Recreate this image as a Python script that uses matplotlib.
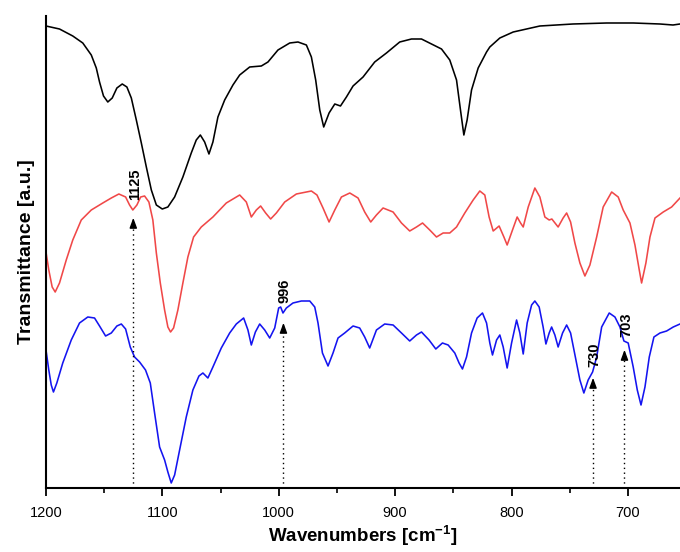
import numpy as np
import matplotlib.pyplot as plt
from matplotlib.ticker import MultipleLocator

plt.rcParams['font.family'] = ['Liberation Sans', 'DejaVu Sans']
plt.rcParams['mathtext.fontset'] = 'custom'
plt.rcParams['mathtext.bf'] = 'Liberation Sans:bold'
plt.rcParams['mathtext.rm'] = 'Liberation Sans'

# espectro 1 (negro)
wn_negro = [1200, 1188.4, 1177.0, 1168.4, 1161.1, 1156.8, 1154.0, 1150.6, 1146.9, 1143.1,
            1139.1, 1134.5, 1130.5, 1126.7, 1122.4, 1118.1, 1113.8, 1109.5, 1105.2, 1100.1,
            1095.3, 1089.5, 1082.4, 1075.2, 1070.9, 1067.4, 1063.7, 1060.0, 1056.6, 1052.3,
            1046.5, 1039.4, 1033.6, 1025.0, 1015.0, 1009.3, 1000.7, 990.6, 983.5, 976.3,
            972.0, 968.3, 964.8, 961.4, 956.8, 951.9, 947.0, 941.9, 936.2, 927.6,
            917.6, 907.5, 896.1, 886.0, 877.4, 868.8, 860.2, 853.1, 847.3, 843.9,
            841.0, 838.2, 834.4, 828.7, 821.5, 818.7, 810.1, 798.6, 775.7, 747.3,
            718.3, 695.4, 672.5, 661.3, 655.3]
T_negro = [4.62, 4.59, 4.52, 4.45, 4.33, 4.20, 4.06, 3.92, 3.86, 3.90,
           4.00, 4.04, 4.01, 3.90, 3.68, 3.45, 3.21, 2.98, 2.83, 2.79,
           2.81, 2.91, 3.11, 3.35, 3.48, 3.53, 3.46, 3.34, 3.46, 3.71,
           3.88, 4.03, 4.13, 4.21, 4.22, 4.26, 4.38, 4.45, 4.46, 4.43,
           4.31, 4.08, 3.78, 3.61, 3.75, 3.84, 3.82, 3.91, 4.02, 4.11,
           4.26, 4.35, 4.46, 4.49, 4.49, 4.44, 4.39, 4.28, 4.08, 3.78,
           3.53, 3.68, 3.98, 4.20, 4.36, 4.41, 4.50, 4.56, 4.62, 4.64,
           4.65, 4.65, 4.64, 4.63, 4.64]

# espectro 2 (rojo)
wn_rojo = [1200, 1197.6, 1194.7, 1192.1, 1188.4, 1182.6, 1177.0, 1169.7, 1161.1, 1151.2,
           1143.9, 1137.4, 1131.6, 1128.2, 1125.4, 1121.9, 1118.7, 1115.3, 1111.6, 1108.2,
           1105.2, 1101.8, 1098.1, 1095.3, 1093.0, 1090.4, 1086.7, 1082.4, 1078.1, 1073.2,
           1066.6, 1056.6, 1045.1, 1033.6, 1027.9, 1023.6, 1019.3, 1015.6, 1011.3, 1007.0,
           1002.1, 994.9, 984.9, 972.0, 967.2, 962.0, 956.8, 951.9, 946.2, 939.0,
           931.9, 926.2, 921.0, 916.1, 910.4, 901.8, 894.6, 887.5, 881.7, 876.5,
           870.3, 864.5, 858.8, 853.1, 847.3, 840.2, 833.0, 827.3, 823.0, 819.3,
           815.8, 810.7, 806.6, 803.8, 798.6, 795.2, 792.3, 790.0, 785.7, 780.0,
           775.7, 771.4, 767.7, 765.4, 760.0, 755.7, 752.7, 749.3, 745.6, 741.3,
           737.0, 732.7, 726.9, 721.3, 714.0, 708.4, 704.1, 698.3, 694.0, 690.3,
           688.3, 684.6, 681.1, 676.8, 669.7, 662.5, 655.3]
T_rojo = [2.36, 2.18, 2.01, 1.96, 2.05, 2.28, 2.48, 2.68, 2.78, 2.85,
          2.90, 2.94, 2.91, 2.83, 2.78, 2.83, 2.91, 2.92, 2.86, 2.68,
          2.35, 2.05, 1.78, 1.61, 1.56, 1.60, 1.78, 2.05, 2.31, 2.51,
          2.61, 2.71, 2.85, 2.93, 2.86, 2.71, 2.78, 2.82, 2.75, 2.69,
          2.75, 2.86, 2.94, 2.97, 2.93, 2.80, 2.66, 2.78, 2.91, 2.95,
          2.90, 2.76, 2.66, 2.73, 2.80, 2.76, 2.65, 2.57, 2.61, 2.65,
          2.58, 2.51, 2.55, 2.55, 2.61, 2.75, 2.88, 2.97, 2.93, 2.71,
          2.57, 2.62, 2.51, 2.43, 2.60, 2.71, 2.65, 2.61, 2.81, 3.00,
          2.91, 2.71, 2.68, 2.69, 2.61, 2.70, 2.75, 2.66, 2.45, 2.25,
          2.12, 2.23, 2.51, 2.81, 2.96, 2.91, 2.78, 2.65, 2.43, 2.18,
          2.05, 2.25, 2.51, 2.70, 2.76, 2.81, 2.90]

# espectro 3 (azul)
wn_azul = [1200, 1197.6, 1195.5, 1193.6, 1190.7, 1185.6, 1178.3, 1171.2, 1164.1, 1158.3,
           1154.0, 1148.8, 1143.9, 1139.1, 1135.3, 1131.6, 1127.6, 1123.9, 1119.6, 1114.5,
           1110.4, 1106.7, 1102.4, 1098.1, 1095.3, 1092.4, 1089.5, 1085.2, 1079.5, 1073.8,
           1068.6, 1065.2, 1060.9, 1056.6, 1049.4, 1042.2, 1036.5, 1030.2, 1026.5, 1023.6,
           1020.1, 1016.4, 1012.1, 1007.8, 1003.5, 1000.1, 998.4, 996.4, 993.5, 987.8,
           980.6, 973.4, 969.1, 966.3, 962.5, 957.7, 953.4, 949.1, 943.4, 936.2,
           930.5, 926.2, 921.9, 916.1, 909.0, 901.8, 894.6, 887.5, 881.7, 877.4,
           870.9, 865.1, 859.4, 854.5, 848.8, 845.1, 842.2, 838.7, 834.4, 829.6,
           825.0, 821.5, 818.7, 816.4, 812.9, 810.1, 807.2, 803.8, 800.0, 795.7,
           792.9, 790.0, 786.6, 782.8, 780.0, 776.3, 772.9, 770.5, 767.7, 765.6,
           762.8, 760.0, 756.2, 752.7, 749.3, 744.7, 741.3, 737.9, 734.2, 730.4,
           726.9, 722.6, 716.1, 711.2, 706.9, 703.5, 699.8, 695.5, 692.0, 688.8,
           685.4, 681.7, 677.7, 672.5, 666.8, 661.1, 655.3]
T_azul = [1.38, 1.18, 1.03, 0.96, 1.05, 1.25, 1.48, 1.65, 1.71, 1.70,
          1.62, 1.52, 1.55, 1.62, 1.64, 1.59, 1.41, 1.31, 1.26, 1.18,
          1.05, 0.75, 0.41, 0.28, 0.16, 0.05, 0.13, 0.38, 0.71, 0.98,
          1.12, 1.15, 1.10, 1.21, 1.40, 1.55, 1.64, 1.70, 1.58, 1.43,
          1.56, 1.64, 1.58, 1.50, 1.60, 1.80, 1.81, 1.75, 1.80, 1.85,
          1.87, 1.87, 1.81, 1.65, 1.35, 1.22, 1.35, 1.50, 1.55, 1.62,
          1.60, 1.51, 1.40, 1.58, 1.64, 1.63, 1.55, 1.47, 1.53, 1.56,
          1.48, 1.39, 1.45, 1.43, 1.35, 1.25, 1.19, 1.31, 1.55, 1.70,
          1.75, 1.65, 1.45, 1.33, 1.48, 1.53, 1.41, 1.20, 1.45, 1.68,
          1.55, 1.34, 1.65, 1.83, 1.87, 1.81, 1.61, 1.44, 1.55, 1.61,
          1.53, 1.41, 1.55, 1.63, 1.55, 1.28, 1.08, 0.95, 1.08, 1.16,
          1.31, 1.61, 1.75, 1.71, 1.61, 1.47, 1.45, 1.21, 0.98, 0.83,
          1.01, 1.31, 1.51, 1.55, 1.57, 1.61, 1.64]

# bandas señaladas
bandas = [1125, 996, 730, 703]
T_flecha = [2.73, 1.68, 1.13, 1.41]
T_texto = [2.88, 1.85, 1.21, 1.51]
etiquetas = ["1125", "996", "730", "703"]

fig = plt.figure(figsize=(6.8, 5.52), dpi=100)
ax = fig.add_axes([46/680, 64/552, 1 - 46/680, (488 - 16)/552])

ax.plot(wn_negro, T_negro, color='black', lw=1.15)
ax.plot(wn_rojo, T_rojo, color='#f04848', lw=1.15)
ax.plot(wn_azul, T_azul, color='#1414f0', lw=1.15)

for x, yf, yt, lab in zip(bandas, T_flecha, T_texto, etiquetas):
    ax.vlines(x, 0, yf - 0.08, colors='black', linestyles=(0, (1, 2.5)), lw=1.0)
    ax.annotate("", xy=(x, yf), xytext=(x, yf - 0.1),
                arrowprops=dict(arrowstyle='-|>,head_length=0.6,head_width=0.22',
                                color='black', lw=1.0))
    ax.text(x - 1.2, yt, lab, rotation=90, ha='center', va='bottom',
            fontsize=10.5, fontweight='bold')

ax.set_xlim(1200, 655.3)
ax.set_ylim(0, 4.72)

ax.spines['top'].set_visible(False)
ax.spines['right'].set_visible(False)
ax.spines['left'].set_linewidth(1.5)
ax.spines['bottom'].set_linewidth(1.5)

ax.xaxis.set_major_locator(MultipleLocator(100))
ax.xaxis.set_minor_locator(MultipleLocator(50))
ax.tick_params(axis='x', which='major', direction='out', length=6, width=1.3,
               labelsize=10.5, pad=7)
ax.tick_params(axis='x', which='minor', direction='out', length=3.5, width=1.2)
ax.set_yticks([])

ax.set_xlabel(r"Wavenumbers [cm$^{\mathbf{-1}}$]", fontsize=13.5, fontweight='bold', labelpad=2)
ax.set_ylabel("Transmittance [a.u.]", fontsize=14, fontweight='bold', labelpad=8)

fig.savefig("out.png", dpi=100)
